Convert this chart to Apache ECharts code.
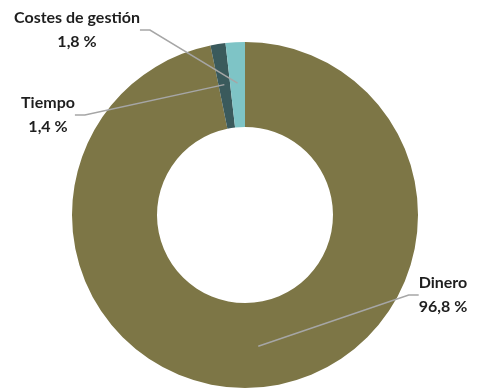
<!DOCTYPE html>
<html><head><meta charset="utf-8">
<script src="https://cdn.jsdelivr.net/npm/echarts@6/dist/echarts.min.js"></script>
<style>html,body{margin:0;padding:0;background:#fff}#c{width:480px;height:389px}</style>
</head><body><div id="c"></div>
<script>
const categories = ['Dinero', 'Tiempo', 'Costes de gestión'];
const values = [96.8, 1.4, 1.8];
const valueLabels = ['96,8 %', '1,4 %', '1,8 %'];
const colors = ['#7d7646', '#3a5a5c', '#7ec4c6'];
const labelPos = [[443, 295], [48, 115], [77, 30]];

const chart = echarts.init(document.getElementById('c'));
const data = categories.map((c, i) => ({ name: c, value: values[i], itemStyle: { color: colors[i] } }));
chart.setOption({
  animation: false,
  series: [
    {
      type: 'pie', center: [245, 215], radius: [88, 173], startAngle: 90, clockwise: true,
      label: { show: false }, labelLine: { show: false }, silent: true,
      data: data
    },
    {
      type: 'pie', center: [245, 215], radius: [0, 132], startAngle: 90, clockwise: true, z: 5,
      itemStyle: { color: 'rgba(0,0,0,0)' },
      data: categories.map((c, i) => ({ name: c, value: values[i], itemStyle: { color: 'rgba(0,0,0,0)' } })),
      label: {
        show: true, position: 'outside',
        formatter: p => p.name + '\n' + valueLabels[p.dataIndex],
        fontFamily: 'Lato', fontWeight: 'bold', fontSize: 16, lineHeight: 24,
        color: '#1e1e1e', align: 'center'
      },
      labelLine: { show: true, length: 10, length2: 10, lineStyle: { color: '#a6a6a6', width: 1.5 } },
      labelLayout: p => ({ x: labelPos[p.dataIndex][0], y: labelPos[p.dataIndex][1], align: 'center', verticalAlign: 'middle' })
    }
  ]
});
</script></body></html>
